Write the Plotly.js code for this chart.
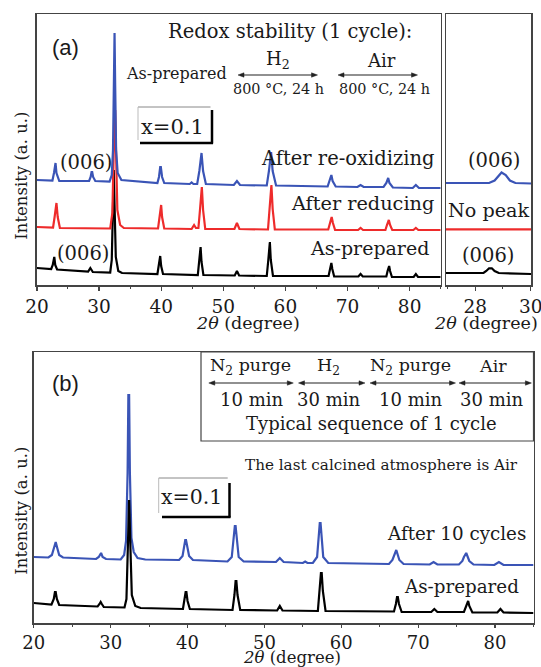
<!DOCTYPE html>
<html>
<head>
<meta charset="utf-8">
<script src="https://cdn.plot.ly/plotly-3.0.1.min.js"></script>
<style>html,body{margin:0;padding:0;background:#fff;}#chart{width:541px;height:667px;}</style>
</head>
<body>
<div id="chart"></div>
<script>
// ---------- DATA (2θ in degrees, intensity in a.u. incl. vertical stacking offset) ----------
// Panel (a) main
const asPreparedA = [[20,17],[22.3,16],[22.55,20],[22.7,28],[22.8,28],[22.95,20],[23.25,15.5],
 [28.25,13.5],[28.45,15.5],[28.6,17],[28.75,15.5],[29.0,13],
 [31.8,12.5],[32.05,25],[32.25,80],[32.38,115],[32.5,80],[32.7,28],[33.1,14],[33.7,12],
 [39.4,11],[39.6,19],[39.75,29],[39.85,29],[40.0,19],[40.3,11],
 [45.9,10],[46.1,23],[46.25,38],[46.35,38],[46.5,23],[46.8,10],
 [51.85,9.5],[52.2,14],[52.55,9.5],
 [57.0,9],[57.25,25],[57.4,43],[57.5,43],[57.65,25],[58.0,9],
 [66.95,9],[67.15,16],[67.3,22],[67.4,22],[67.55,16],[67.85,8.5],
 [71.75,8.5],[72.1,11],[72.45,8.5],
 [76.25,8.5],[76.45,14],[76.6,19],[76.7,19],[76.85,14],[77.15,8],
 [80.65,8],[81.0,11],[81.35,8],[85,8]];
const afterReducingA = [[20,58],[22.6,57.5],[22.85,68],[23.05,82],[23.15,82],[23.35,68],[23.7,57],
 [31.8,56.5],[32.15,72],[32.35,130],[32.5,175],[32.6,175],[32.75,130],[32.95,75],[33.4,60],[34,57],
 [39.5,56.5],[39.75,68],[39.9,80],[40.0,80],[40.15,68],[40.5,56.5],
 [44.9,56],[45.3,60],[45.6,57],[46.0,57],[46.25,75],[46.45,98],[46.55,98],[46.75,75],[47.1,56],
 [51.8,56],[52.2,62],[52.6,56],
 [57.2,55.5],[57.45,76],[57.65,100],[57.75,100],[57.95,76],[58.3,55.5],
 [66.9,55.5],[67.15,62],[67.35,68],[67.45,68],[67.65,62],[68.0,55],
 [71.7,55],[72.1,57],[72.5,55],
 [76.1,55],[76.35,60],[76.55,65],[76.65,65],[76.85,60],[77.2,55],
 [80.6,55],[81.0,57],[81.4,55],[85,55]];
const afterReoxA = [[20,105],[22.5,104.5],[22.75,112],[22.9,122],[23.0,122],[23.15,112],[23.6,104],
 [28.4,104],[28.65,108],[28.8,113],[28.9,113],[29.05,108],[29.4,104],
 [31.7,103.5],[32.05,110],[32.25,135],[32.4,200],[32.5,252],[32.6,200],[32.75,135],[33.0,112],[33.6,105],
 [39.4,102],[39.65,108],[39.85,118],[39.95,118],[40.15,108],[40.5,102],
 [44.6,101],[44.9,102.5],[45.2,101],
 [45.8,101],[46.15,114],[46.4,132],[46.5,132],[46.75,114],[47.2,101],
 [51.7,100],[52.2,104],[52.7,100],
 [57.0,99.5],[57.35,114],[57.6,133],[57.7,133],[57.95,114],[58.5,99.5],
 [66.8,98.5],[67.1,104],[67.3,110],[67.4,110],[67.6,104],[68.1,98.5],
 [71.6,98],[72.1,100],[72.6,98],
 [75.8,98],[76.25,102],[76.45,107],[76.55,107],[76.75,102],[77.3,97.5],
 [80.5,97],[81.0,100],[81.5,97],[85,97]];
// Panel (a) inset, 2θ 27–30
const insetReox = [[26.95,102],[28.5,102],[28.7,104.5],[28.85,110],[28.95,112.5],[29.1,110],[29.25,104.5],[29.45,102],[30.01,101.5]];
const insetReduced = [[26.95,55.7],[30.01,55.7]];
const insetAsPrep = [[26.95,12],[28.3,12],[28.4,14],[28.5,16.7],[28.6,16.7],[28.7,14],[28.85,12],[30.01,11]];
// Panel (b)
const asPreparedB = [[20,20],[22.3,18.5],[22.6,24],[22.75,31],[22.85,31],[23.0,24],[23.3,18],
 [28.3,16.5],[28.55,19],[28.7,21],[28.85,19],[29.1,16],
 [31.8,15.5],[32.05,24],[32.25,80],[32.4,123],[32.55,80],[32.75,28],[33.2,17],[33.9,15],
 [39.4,14],[39.6,22],[39.75,31],[39.85,31],[40.0,22],[40.3,14],
 [45.85,13],[46.1,28],[46.25,42],[46.35,42],[46.5,28],[46.85,13],
 [51.65,12.5],[52.0,17],[52.35,12.5],
 [56.95,12],[57.2,32],[57.35,50],[57.45,50],[57.6,32],[57.95,12],
 [66.85,11.5],[67.1,19],[67.25,26],[67.35,26],[67.5,19],[67.85,11],
 [71.7,11],[72.1,14],[72.5,11],
 [75.95,11],[76.25,17],[76.4,22],[76.5,22],[76.65,17],[77.05,10.5],
 [80.3,10.5],[80.7,14],[81.1,10.5],[85,10]];
const after10CyclesB = [[20,66],[21.9,65.5],[22.35,68],[22.6,75],[22.75,81],[22.85,81],[23.05,75],[23.3,68],[23.8,65.5],
 [28.1,64],[28.45,66],[28.65,70],[28.75,70],[28.95,66],[29.4,64],
 [31.3,63.5],[31.75,68],[32.0,82],[32.2,150],[32.3,228],[32.4,228],[32.5,150],[32.7,85],[33.0,71],[33.5,65],[34.5,63.5],
 [38.9,63],[39.35,67],[39.55,76],[39.7,83],[39.8,83],[40.0,76],[40.2,67],[40.7,63],
 [45.2,61.5],[45.75,66],[45.95,80],[46.15,97],[46.25,97],[46.45,80],[46.65,66],[47.3,61.5],
 [51.5,61],[52.0,65],[52.5,61],
 [55.0,60],[55.3,61.5],[55.6,60],
 [56.3,60],[56.85,66],[57.0,82],[57.2,100],[57.3,100],[57.5,82],[57.65,66],[58.3,60],
 [66.2,59],[66.65,63],[66.85,68],[67.05,73],[67.15,73],[67.35,68],[67.55,63],[68.1,59],
 [71.5,58.5],[72.0,61],[72.5,58.5],
 [75.3,58.5],[75.75,62],[75.95,66],[76.15,70],[76.25,70],[76.45,66],[76.65,62],[77.2,58.5],
 [79.9,58],[80.5,61],[81.1,58],[85,58]];
const majorTicks = [20,30,40,50,60,70,80];
const insetTicks = [28,30];

// ---------- helpers ----------
const W = 541, H = 667;
const PX = v => v / W;
const PY = v => 1 - v / H;
const BLUE = '#3a54b6', RED = '#ee2b2b', BLACK = '#000000';
const SERIF = 'DejaVu Serif';
const TXT = '#1a1a1a';

function tr(pts, color, xa, ya, w) {
  return {type:'scatter', mode:'lines', x: pts.map(p=>p[0]), y: pts.map(p=>p[1]),
    xaxis: xa, yaxis: ya, line:{color:color, width: w||2.2}, hoverinfo:'skip', showlegend:false};
}

const data = [
  tr(asPreparedA, BLACK, 'x', 'y'),
  tr(afterReducingA, RED, 'x', 'y'),
  tr(afterReoxA, BLUE, 'x', 'y'),
  tr(insetAsPrep, BLACK, 'x2', 'y2'),
  tr(insetReduced, RED, 'x2', 'y2'),
  tr(insetReox, BLUE, 'x2', 'y2'),
  tr(after10CyclesB, BLUE, 'x3', 'y3'),
  tr(asPreparedB, BLACK, 'x3', 'y3')
];

const frame = {showline:true, mirror:true, linecolor:'#444', linewidth:1.5, showgrid:false, zeroline:false};
function xax(domain, range, tickvals, minorDtick, anchor, fs, tl) {
  return Object.assign({}, frame, {domain, range, anchor, tickmode:'array', tickvals,
    ticks:'outside', ticklen:tl||4, tickwidth:1.2, tickcolor:'#444', ticklabeloverflow:'allow',
    minor:{dtick:minorDtick, tick0:0, ticks:'outside', ticklen:2.5, tickwidth:1, tickcolor:'#444'},
    tickfont:{family:SERIF, size:fs||18.5, color:TXT}});
}
function yax(domain, anchor) {
  return Object.assign({}, frame, {domain, range:[0,271], anchor, showticklabels:false, ticks:''});
}

function t(text, x, y, size, opts) {
  return Object.assign({xref:'paper', yref:'paper', x:PX(x), y:PY(y), text, showarrow:false,
    xanchor:'center', yanchor:'middle', font:{family:SERIF, size, color:TXT}}, opts||{});
}

function ln(x0, y0, x1, y1, color, w) {
  return {type:'line', xref:'paper', yref:'paper', x0:PX(x0), y0:PY(y0), x1:PX(x1), y1:PY(y1),
    line:{color, width:w}};
}
// double-headed arrow drawn as a line with two small filled heads
function darrow(x0, x1, y) {
  const L = 6, h = 2.2, c = '#222';
  const head = (xt, dir) => ({type:'path', xref:'paper', yref:'paper',
    path:`M ${PX(xt)} ${PY(y)} L ${PX(xt+dir*L)} ${PY(y-h)} L ${PX(xt+dir*L)} ${PY(y+h)} Z`,
    fillcolor:c, line:{color:c, width:0.5}});
  return [ln(x0+2, y, x1-2, y, c, 1.1), head(x0, 1), head(x1, -1)];
}

const annotations = [
  // panel (a)
  t('(a)', 65.6, 48, 22, {font:{family:'Liberation Sans', size:22, color:TXT}}),
  t('Redox stability (1 cycle):', 290, 31, 19.5),
  t('H<sub>2</sub>', 278, 60, 18),
  t('Air', 381, 60, 18),
  t('As-prepared', 176, 73, 16),
  t('800 °C, 24 h', 278, 88.5, 14.4),
  t('800 °C, 24 h', 384, 88.5, 14.4),
  t('x=0.1', 172.5, 127, 21),
  t('(006)', 85.6, 162, 19.5),
  t('(006)', 82.8, 253, 19.5),
  t('After re-oxidizing', 436.5, 159, 19.5, {xanchor:'right'}),
  t('After reducing', 435.5, 203, 19.3, {xanchor:'right'}),
  t('As-prepared', 431, 248, 19, {xanchor:'right'}),
  t('(006)', 494, 160, 19.5),
  t('No peak', 489, 210, 19.2),
  t('(006)', 488, 255, 19.5),
  t('<i>2θ</i> (degree)', 248.4, 322.5, 17.5),
  t('<i>2θ</i> (degree)', 486, 322.5, 17.5),
  t('Intensity (a. u.)', 20.7, 176, 16.5, {textangle:-90}),
  // panel (b)
  t('(b)', 65.6, 383, 22, {font:{family:'Liberation Sans', size:22, color:TXT}}),
  t('N<sub>2</sub> purge', 250, 366, 17.5),
  t('H<sub>2</sub>', 328, 366, 17.5),
  t('N<sub>2</sub> purge', 410.6, 366, 17.5),
  t('Air', 493.4, 366, 17.5),
  t('10 min', 251, 399, 18),
  t('30 min', 328, 399, 18),
  t('10 min', 410.6, 399, 18),
  t('30 min', 491.7, 399, 18),
  t('Typical sequence of 1 cycle', 371.6, 423, 18),
  t('The last calcined atmosphere is Air', 381.3, 465, 15.2),
  t('x=0.1', 191.5, 497, 20.5),
  t('After 10 cycles', 528, 533, 18.3, {xanchor:'right'}),
  t('As-prepared', 521, 586, 18.3, {xanchor:'right'}),
  t('<i>2θ</i> (degree)', 291.6, 657.5, 16.5),
  t('Intensity (a. u.)', 20.7, 511, 16.5, {textangle:-90})
];

const shapes = [
  // x=0.1 box (a)
  ln(138, 107, 210.5, 107, '#888', 1),
  ln(138, 107, 138, 140, '#bbb', 1),
  ln(212, 110, 212, 143.5, '#000', 2.5),
  ln(140, 143, 213, 143, '#000', 2.5),
  // sequence box (b)
  {type:'rect', xref:'paper', yref:'paper', x0:PX(201), x1:PX(533.5), y0:PY(441), y1:PY(352),
   line:{color:'#444', width:1.2}},
  // x=0.1 box (b)
  ln(158.7, 478, 227.7, 478, '#888', 1),
  ln(158.7, 478, 158.7, 513, '#bbb', 1),
  ln(229.5, 483, 229.5, 517.5, '#000', 2.5),
  ln(162, 517, 230.5, 517, '#000', 2.5)
].concat(
  darrow(238, 317.5, 75), darrow(338, 417.5, 75),
  darrow(208.8, 293.3, 383), darrow(298.5, 365, 383), darrow(370, 455.5, 383), darrow(459, 531.4, 383)
);

const layout = {
  width: W, height: H, margin:{l:0, r:0, t:0, b:0},
  paper_bgcolor:'#fff', plot_bgcolor:'rgba(0,0,0,0)', showlegend:false,
  xaxis: xax([PX(36.9), PX(440.7)], [20,85], majorTicks, 5, 'y'),
  yaxis: yax([PY(285), PY(14)], 'x'),
  xaxis2: xax([PX(446), PX(531)], [26.95,30.01], insetTicks, 1, 'y2'),
  yaxis2: yax([PY(285), PY(14)], 'x2'),
  xaxis3: xax([PX(33.8), PX(533.5)], [20,85], majorTicks, 5, 'y3', 18, 3),
  yaxis3: yax([PY(623), PY(352)], 'x3'),
  annotations, shapes
};

Plotly.newPlot('chart', data, layout, {staticPlot:true, displayModeBar:false});
</script>
</body>
</html>
